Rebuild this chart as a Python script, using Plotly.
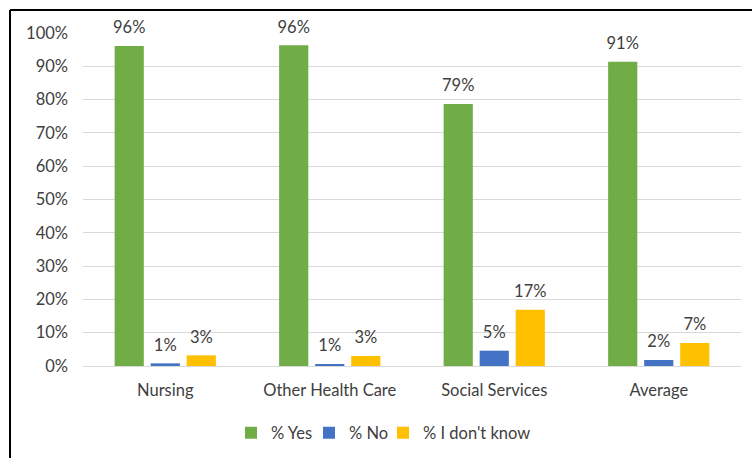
import plotly.graph_objects as go

categories = ["Nursing", "Other Health Care", "Social Services", "Average"]
yes_vals = [0.961, 0.963, 0.787, 0.914]
no_vals = [0.008, 0.006, 0.046, 0.018]
dk_vals = [0.032, 0.030, 0.169, 0.069]
series_names = ["% Yes", "% No", "% I don't know"]
colors = ["#70AD47", "#4472C4", "#FFC000"]
y_ticks = [i / 10 for i in range(11)]

FONT = "Lato"
TXT = "#404040"
FS = 16.5
BARGAP = 0.343

W, H = 752, 458
l, r, t, b = 83, 11, 33, 92
pw, ph = W - l - r, H - t - b

legend_ids = ["legend", "legend2", "legend3"]
legend_square_px = [251, 329, 403]

fig = go.Figure()
for i, (name, vals, col) in enumerate(zip(series_names, [yes_vals, no_vals, dk_vals], colors)):
    fig.add_trace(go.Bar(
        x=categories, y=vals, name=name, marker_color=col,
        marker_line_width=0, offsetgroup=str(i), legend=legend_ids[i],
    ))
for i, (name, vals) in enumerate(zip(series_names, [yes_vals, no_vals, dk_vals])):
    fig.add_trace(go.Scatter(
        x=categories, y=vals, mode="markers+text", offsetgroup=str(i),
        marker=dict(size=12, opacity=0), text=[f"{v:.0%}" for v in vals],
        textposition="top center", textfont=dict(family=FONT, size=FS, color=TXT),
        showlegend=False, hoverinfo="skip", cliponaxis=False,
    ))

legends = {}
for lid, sq in zip(legend_ids, legend_square_px):
    legends[lid] = dict(orientation="h", x=(sq - 20 - l) / pw, xanchor="left",
                        y=-(433 - 366) / ph, yanchor="middle",
                        font=dict(family=FONT, size=FS, color=TXT),
                        bgcolor="rgba(0,0,0,0)")

fig.update_layout(
    width=W, height=H,
    margin=dict(l=l, r=r, t=t, b=b, autoexpand=False),
    paper_bgcolor="white", plot_bgcolor="white",
    barmode="group", bargap=BARGAP, bargroupgap=0.19,
    scattermode="group", scattergap=BARGAP,
    font=dict(family=FONT, size=FS, color=TXT),
    showlegend=True,
    xaxis=dict(showgrid=False, showline=False, ticks="", tickfont=dict(size=FS),
               ticklabelstandoff=12, automargin=False),
    yaxis=dict(range=[0, 1], tickvals=y_ticks, tickformat=".0%", showgrid=True,
               gridcolor="#D9D9D9", gridwidth=1, zeroline=True, zerolinecolor="#D9D9D9",
               zerolinewidth=1, ticks="", tickfont=dict(size=FS), ticklabelstandoff=14,
               automargin=False),
    shapes=[
        dict(type="line", xref="paper", yref="paper",
             x0=(10 - l) / pw, x1=(W + 5 - l) / pw, y0=1 + (t - 10) / ph, y1=1 + (t - 10) / ph,
             line=dict(color="black", width=2)),
        dict(type="line", xref="paper", yref="paper",
             x0=(10 - l) / pw, x1=(10 - l) / pw, y0=1 + (t - 10) / ph, y1=-(b + 5) / ph,
             line=dict(color="black", width=2)),
    ],
    **legends,
)

fig.write_html("out.html")
